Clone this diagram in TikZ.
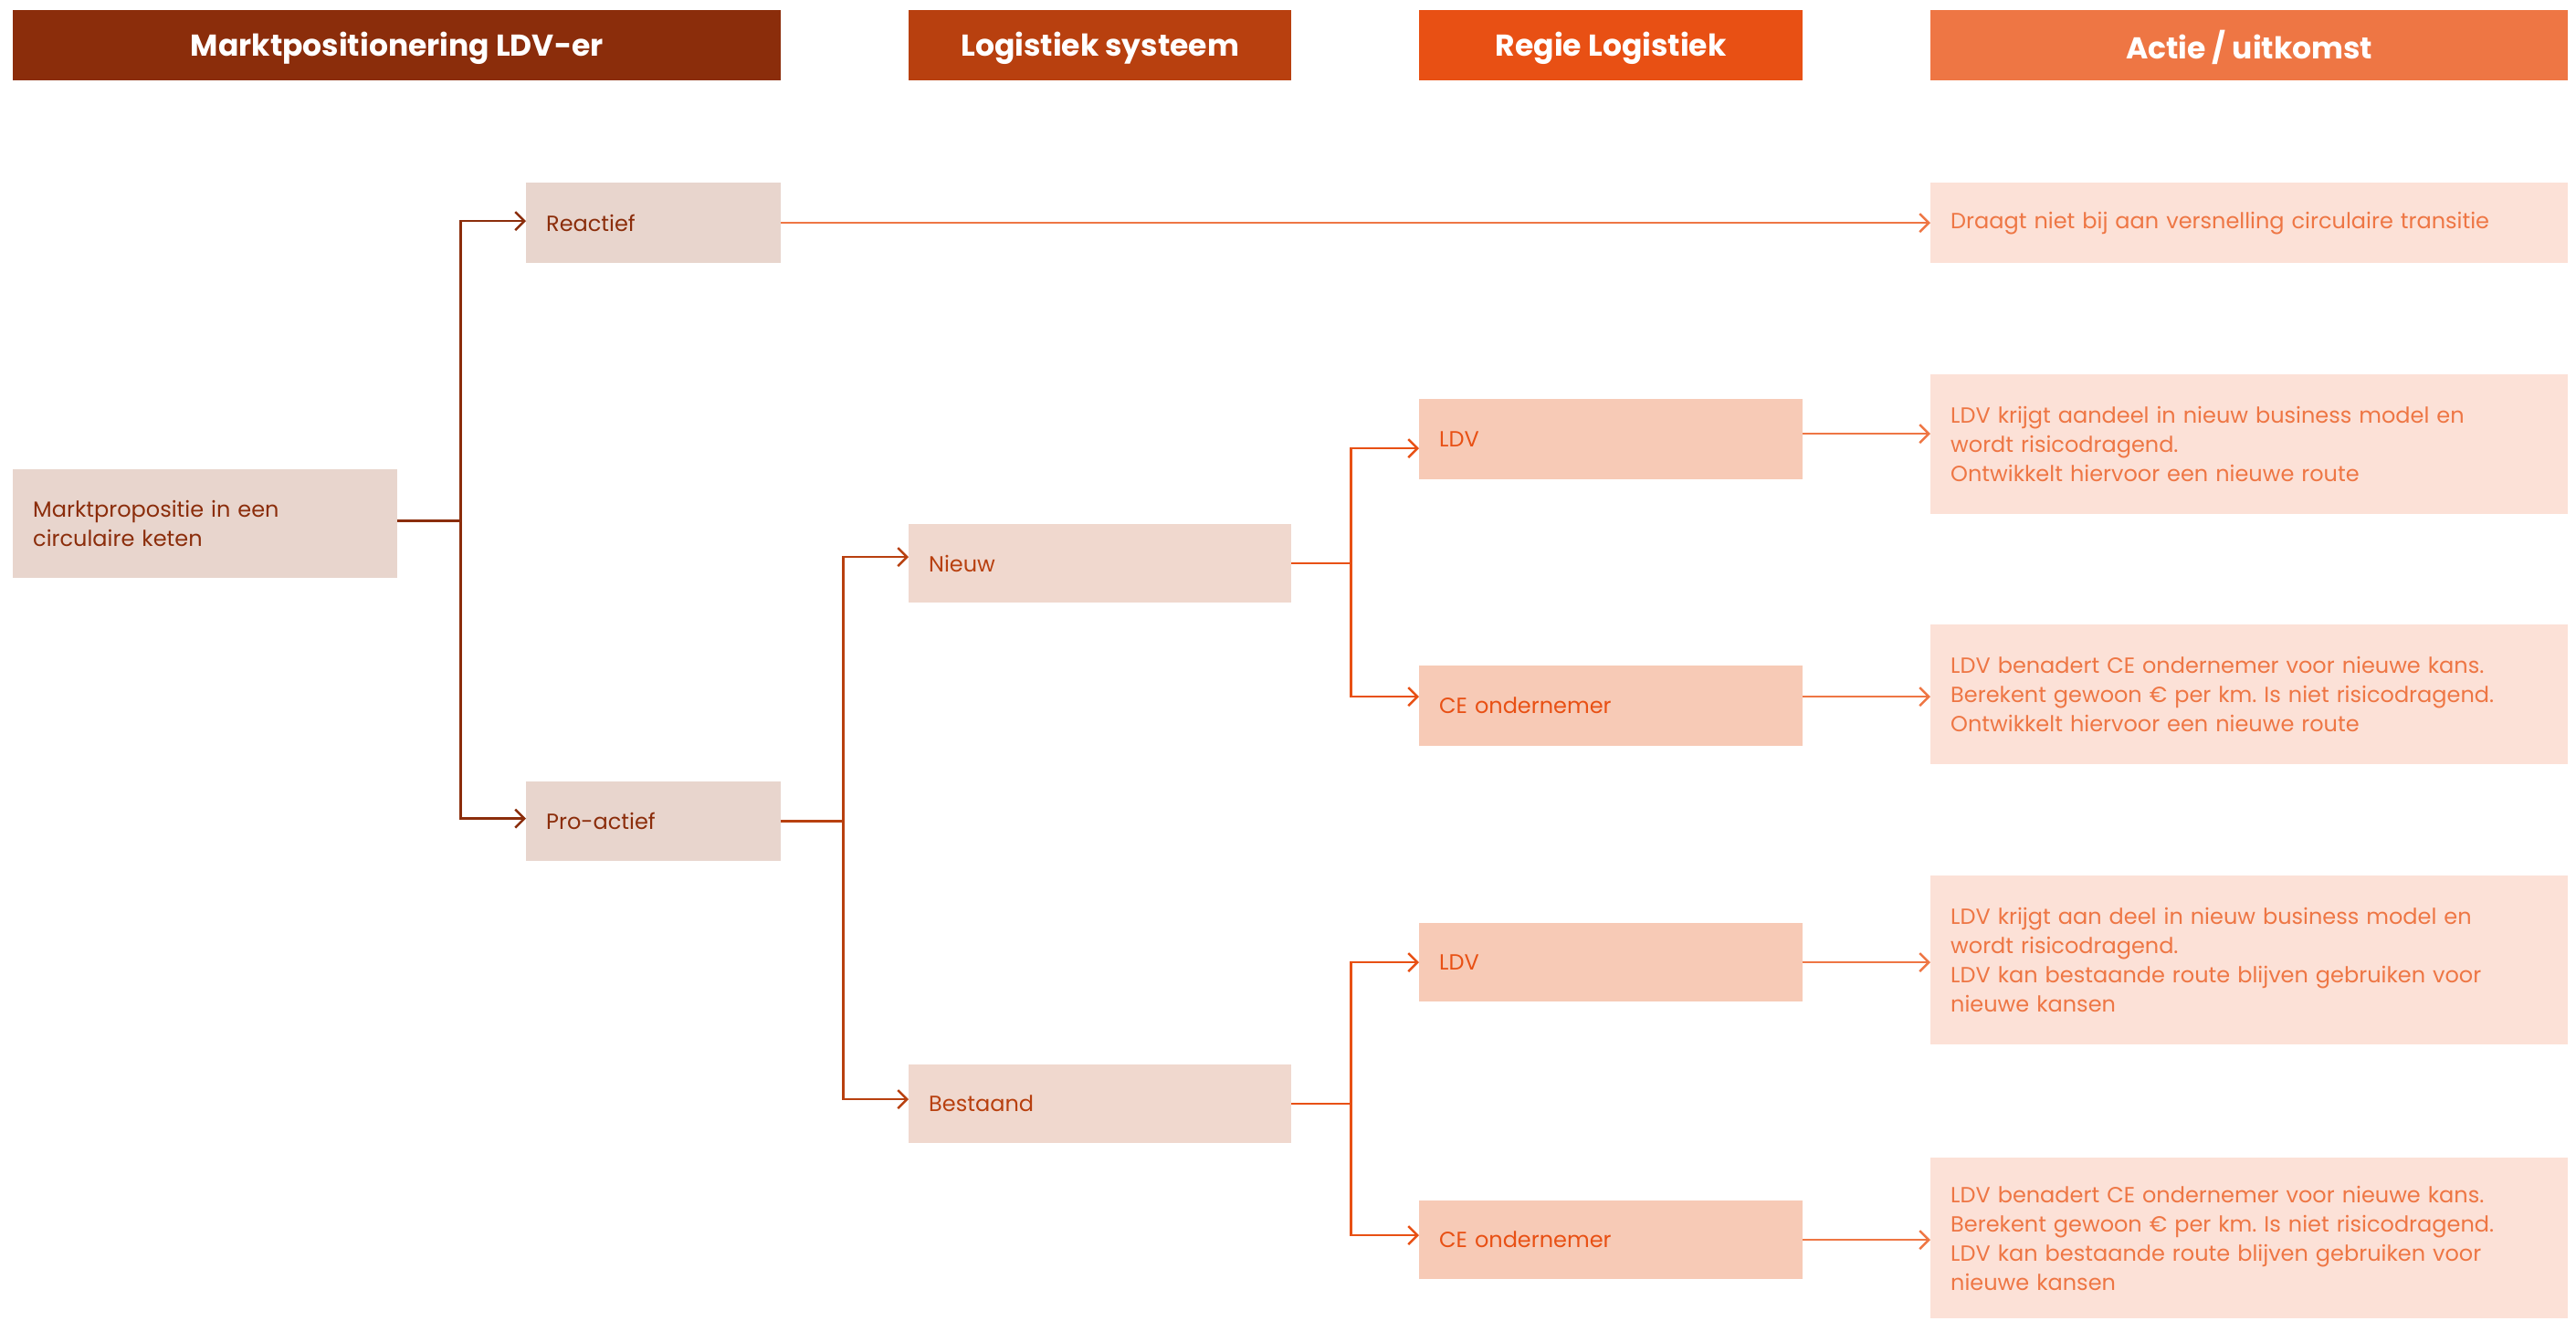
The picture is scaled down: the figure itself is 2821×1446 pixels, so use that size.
\documentclass[tikz,border=0pt]{standalone}
\usepackage{fontspec}
\setmainfont{Poppins}
\usepackage{tikz}
\usetikzlibrary{arrows.meta,positioning}
\frenchspacing
\definecolor{colA}{HTML}{8B2D0B}
\definecolor{colB}{HTML}{B8400F}
\definecolor{colC}{HTML}{E85014}
\definecolor{colD}{HTML}{EE7644}
\definecolor{fillA}{HTML}{E8D5CD}
\definecolor{fillB}{HTML}{F0D8CE}
\definecolor{fillC}{HTML}{F7CAB6}
\definecolor{fillD}{HTML}{FCE1D7}
\tikzset{
  head/.style={fill=#1,text=white,font=\bfseries\fontsize{33}{40}\selectfont,minimum height=77pt,inner sep=0pt,text depth=2pt,anchor=north west},
  box/.style={inner xsep=22pt,inner ysep=0pt,align=left,anchor=north west,font=\fontsize{24}{32}\selectfont},
  lvlA/.style={box,fill=fillA,text=colA},
  lvlB/.style={box,fill=fillB,text=colB},
  lvlC/.style={box,fill=fillC,text=colC},
  lvlD/.style={box,fill=fillD,text=colD,text width=654pt},
  link/.style={draw=#1,line width=2.5pt},
  arr/.style={link=#1,-{Straight Barb[length=10pt,width=20pt]}},
}
\begin{document}
\begin{tikzpicture}[x=1pt,y=-1pt]
  \useasboundingbox (0,0) rectangle (2821,1446);
  % kolomkoppen
  \node[head=colA,minimum width=841pt] (h1) at (14,11) {Marktpositionering LDV-er};
  \node[head=colB,minimum width=419pt] (h2) at (995,11) {Logistiek systeem};
  \node[head=colC,minimum width=420pt] (h3) at (1554,11) {Regie Logistiek};
  \node[head=colD,minimum width=698pt] (h4) at (2114,11) {Actie / uitkomst};

  % boom
  \node[lvlA,text width=377pt,minimum height=119pt] (root) at (14,514) {Marktpropositie in een\\circulaire keten};
  \node[lvlA,text width=235pt,minimum height=88pt] (reactief) at (576,200) {Reactief};
  \node[lvlA,text width=235pt,minimum height=87pt] (proactief) at (576,856) {Pro-actief};
  \node[lvlB,text width=375pt,minimum height=86pt] (nieuw) at (995,574) {Nieuw};
  \node[lvlB,text width=375pt,minimum height=86pt] (bestaand) at (995,1166) {Bestaand};
  \node[lvlC,text width=376pt,minimum height=88pt] (ldvA) at (1554,437) {LDV};
  \node[lvlC,text width=376pt,minimum height=88pt] (ceA) at (1554,729) {CE ondernemer};
  \node[lvlC,text width=376pt,minimum height=86pt] (ldvB) at (1554,1011) {LDV};
  \node[lvlC,text width=376pt,minimum height=86pt] (ceB) at (1554,1315) {CE ondernemer};

  % uitkomsten
  \node[lvlD,minimum height=88pt] (outR) at (2114,200) {Draagt niet bij aan versnelling circulaire transitie};
  \node[lvlD,minimum height=153pt] (outA) at (2114,410) {LDV krijgt aandeel in nieuw business model en\\wordt risicodragend.\\Ontwikkelt hiervoor een nieuwe route};
  \node[lvlD,minimum height=153pt] (outB) at (2114,684) {LDV benadert CE ondernemer voor nieuwe kans.\\Berekent gewoon € per km. Is niet risicodragend.\\Ontwikkelt hiervoor een nieuwe route};
  \node[lvlD,minimum height=185pt] (outC) at (2114,959) {LDV krijgt aan deel in nieuw business model en\\wordt risicodragend.\\LDV kan bestaande route blijven gebruiken voor\\nieuwe kansen};
  \node[lvlD,minimum height=176pt] (outD) at (2114,1268) {LDV benadert CE ondernemer voor nieuwe kans.\\Berekent gewoon € per km. Is niet risicodragend.\\LDV kan bestaande route blijven gebruiken voor\\nieuwe kansen};

  % verbindingen
  \draw[link=colA] ([yshift=3pt]root.east) -- ++(69,0) coordinate (jA);
  \draw[arr=colA] (jA) |- ([yshift=2pt]reactief.west);
  \draw[arr=colA] (jA) |- ([yshift=3pt]proactief.west);
  \draw[arr=colD] (reactief.east) -- (outR.west);

  \draw[link=colB] (proactief.east) -- ++(68,0) coordinate (jB);
  \draw[arr=colB] (jB) |- ([yshift=7pt]nieuw.west);
  \draw[arr=colB] (jB) |- ([yshift=5pt]bestaand.west);

  \draw[link=colC] (nieuw.east) -- ++(65,0) coordinate (jC);
  \draw[arr=colC] (jC) |- ([yshift=-10pt]ldvA.west);
  \draw[arr=colC] (jC) |- ([yshift=10pt]ceA.west);
  \draw[link=colC] (bestaand.east) -- ++(65,0) coordinate (jD);
  \draw[arr=colC] (jD) |- (ldvB.west);
  \draw[arr=colC] (jD) |- ([yshift=5pt]ceB.west);

  \draw[arr=colD] ([yshift=6pt]ldvA.east) -- ([yshift=6pt]ldvA.east -| outA.west);
  \draw[arr=colD] ([yshift=10pt]ceA.east) -- ([yshift=10pt]ceA.east -| outB.west);
  \draw[arr=colD] (ldvB.east) -- (ldvB.east -| outC.west);
  \draw[arr=colD] (ceB.east) -- (ceB.east -| outD.west);
\end{tikzpicture}
\end{document}
